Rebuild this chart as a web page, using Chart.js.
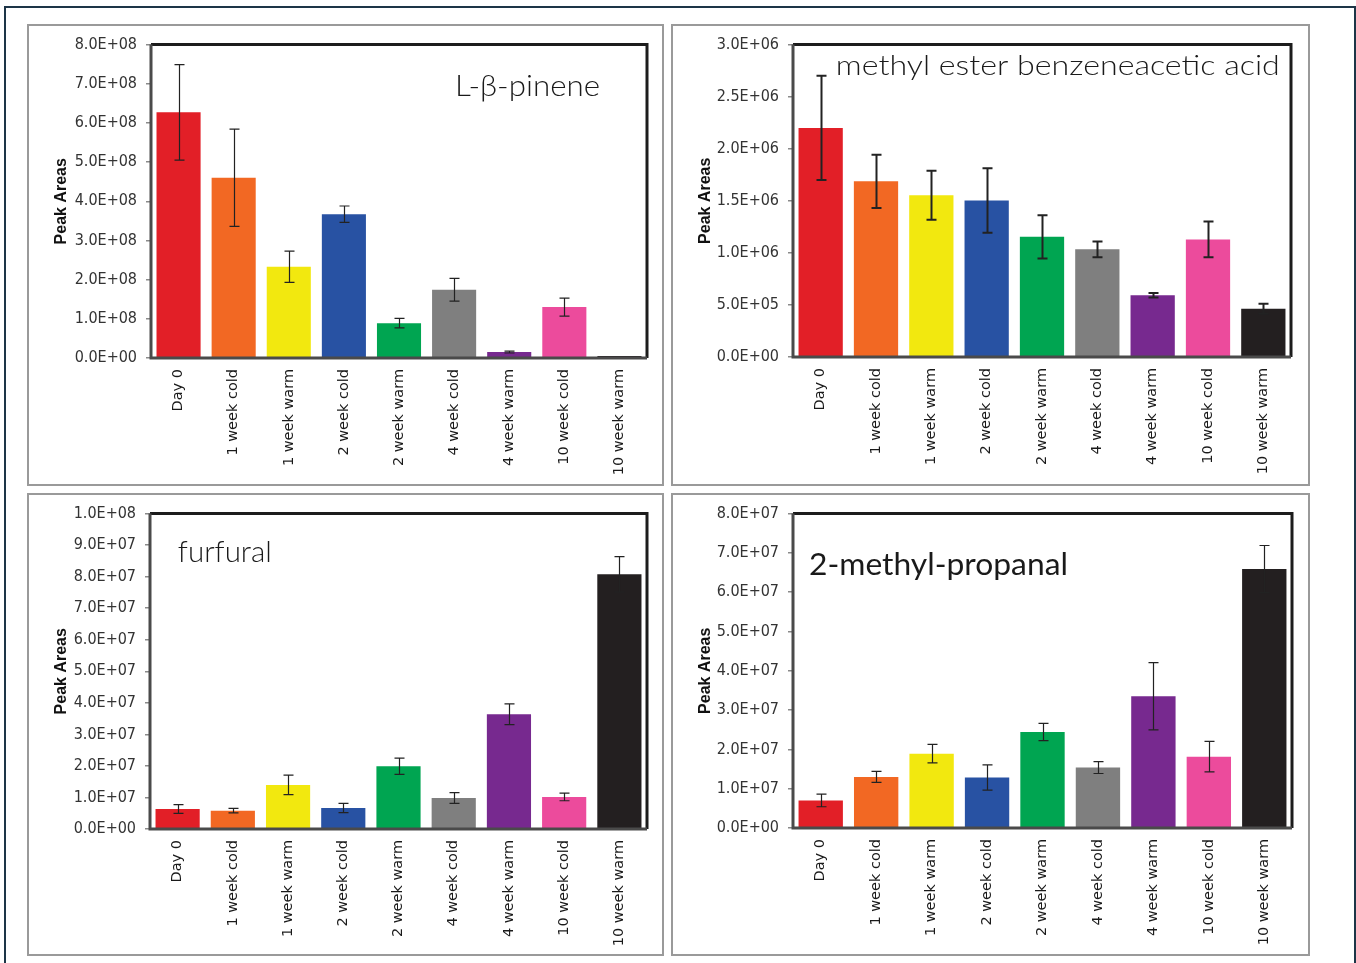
<!DOCTYPE html>
<html>
<head>
<meta charset="utf-8">
<script src="https://cdn.jsdelivr.net/npm/chart.js@4.4.1/dist/chart.umd.min.js"></script>
<style>
  html, body { margin: 0; padding: 0; background: #ffffff; }
  body { width: 1356px; height: 963px; position: relative; overflow: hidden; }
  #frame { position: absolute; left: 4px; top: 6px; width: 1352px; height: 980px; box-sizing: border-box;
           border-left: 2.5px solid #1d3547; border-top: 2px solid #1d3547; border-right: 2px solid #1d3547; }
  .panel { position: absolute; box-sizing: border-box; border: 2px solid #9a9a9a; background: #fff; }
  .panel canvas { position: absolute; left: 0; top: 0; }
</style>
</head>
<body>
<div id="frame"></div>
<script>
// ---------- DATA ----------
const categories = ['Day 0', '1 week cold', '1 week warm', '2 week cold', '2 week warm',
                    '4 week cold', '4 week warm', '10 week cold', '10 week warm'];
const barColors = ['#e21f27', '#f26823', '#f2e80f', '#2852a3', '#00a551',
                   '#7f7f7f', '#77298f', '#ec4b9c', '#231f20'];

const pineneValues = [6.27e8, 4.60e8, 2.33e8, 3.67e8, 0.89e8, 1.74e8, 0.152e8, 1.30e8, 0.05e8];
const pineneErrors = [1.22e8, 1.24e8, 0.40e8, 0.21e8, 0.12e8, 0.29e8, 0.025e8, 0.23e8, 0];
const pineneTicks = ['0.0E+00', '1.0E+08', '2.0E+08', '3.0E+08', '4.0E+08', '5.0E+08', '6.0E+08', '7.0E+08', '8.0E+08'];

const esterValues = [2.20e6, 1.687e6, 1.554e6, 1.503e6, 1.154e6, 1.034e6, 0.593e6, 1.129e6, 0.463e6];
const esterErrors = [0.50e6, 0.255e6, 0.235e6, 0.31e6, 0.208e6, 0.075e6, 0.022e6, 0.172e6, 0.048e6];
const esterTicks = ['0.0E+00', '5.0E+05', '1.0E+06', '1.5E+06', '2.0E+06', '2.5E+06', '3.0E+06'];

const furfuralValues = [0.635e7, 0.582e7, 1.397e7, 0.667e7, 1.989e7, 0.984e7, 3.64e7, 1.016e7, 8.074e7];
const furfuralErrors = [0.14e7, 0.07e7, 0.31e7, 0.148e7, 0.26e7, 0.17e7, 0.33e7, 0.12e7, 0.56e7];
const furfuralTicks = ['0.0E+00', '1.0E+07', '2.0E+07', '3.0E+07', '4.0E+07', '5.0E+07', '6.0E+07', '7.0E+07', '8.0E+07', '9.0E+07', '1.0E+08'];

const propanalValues = [0.701e7, 1.30e7, 1.892e7, 1.284e7, 2.441e7, 1.537e7, 3.353e7, 1.816e7, 6.588e7];
const propanalErrors = [0.16e7, 0.14e7, 0.235e7, 0.32e7, 0.22e7, 0.15e7, 0.855e7, 0.39e7, 0.60e7];
const propanalTicks = ['0.0E+00', '1.0E+07', '2.0E+07', '3.0E+07', '4.0E+07', '5.0E+07', '6.0E+07', '7.0E+07', '8.0E+07'];

const yTitle = 'Peak Areas';

// ---------- LAYOUT ----------
const panels = [
  { box: [27, 24, 637, 462], area: [151, 43, 647, 358], values: pineneValues, errors: pineneErrors,
    ticks: pineneTicks, max: 8e8, step: 1e8, errWidth: 1.2,
    title: 'L-β-pinene', tSpec: { fx: 0.613, fy: 0.165, size: 29, width: 145, weight: 300 } },
  { box: [671, 24, 639, 462], area: [793, 42, 1291, 357], values: esterValues, errors: esterErrors,
    ticks: esterTicks, max: 3e6, step: 5e5, errWidth: 2,
    title: 'methyl ester benzeneacetic acid', tSpec: { fx: 0.086, fy: 0.097, size: 27, width: 444, weight: 300 } },
  { box: [27, 493, 637, 463], area: [150, 513, 647, 829], values: furfuralValues, errors: furfuralErrors,
    ticks: furfuralTicks, max: 1e8, step: 1e7, errWidth: 1.2,
    title: 'furfural', tSpec: { fx: 0.056, fy: 0.152, size: 29, width: 94, weight: 300 } },
  { box: [671, 493, 639, 463], area: [793, 512, 1292, 828], values: propanalValues, errors: propanalErrors,
    ticks: propanalTicks, max: 8e7, step: 1e7, errWidth: 1.2,
    title: '2-methyl-propanal', tSpec: { fx: 0.032, fy: 0.194, size: 31, width: 259, weight: 400 } }
];

const tickFont = { family: "'Liberation Sans Narrow', 'DejaVu Sans Condensed', 'Liberation Sans', sans-serif", size: 16 };

const plotFramePlugin = {
  id: 'plotFrame',
  afterDatasetsDraw(chart) {
    const { ctx, chartArea: a } = chart;
    const p = chart.options.plugins.plotFrame;
    const meta = chart.getDatasetMeta(0);
    const ys = chart.scales.y;
    // error bars
    ctx.save();
    ctx.strokeStyle = '#222';
    ctx.lineWidth = p.errWidth;
    meta.data.forEach((bar, i) => {
      const v = p.values[i], e = p.errors[i];
      if (!e) return;
      const x = Math.round(bar.x) + 0.5;
      const yh = ys.getPixelForValue(v + e), yl = ys.getPixelForValue(v - e);
      const cap = 5;
      ctx.beginPath();
      ctx.moveTo(x, yh); ctx.lineTo(x, yl);
      ctx.moveTo(x - cap, yh); ctx.lineTo(x + cap, yh);
      ctx.moveTo(x - cap, yl); ctx.lineTo(x + cap, yl);
      ctx.stroke();
    });
    ctx.restore();
    // plot frame
    ctx.save();
    ctx.lineWidth = 3;
    ctx.strokeStyle = '#1c1c1c';
    ctx.beginPath();
    ctx.moveTo(a.left, a.top); ctx.lineTo(a.right, a.top); ctx.lineTo(a.right, a.bottom);
    ctx.stroke();
    ctx.strokeStyle = '#4a4a4a';
    ctx.beginPath();
    ctx.moveTo(a.left, a.top); ctx.lineTo(a.left, a.bottom); ctx.lineTo(a.right, a.bottom);
    ctx.stroke();
    ctx.restore();
    // in-plot compound name
    const t = p.tSpec;
    ctx.save();
    ctx.font = `${t.weight} ${t.size}px Lato, 'Open Sans', sans-serif`;
    const w = ctx.measureText(p.title).width;
    const sx = t.width / w;
    ctx.translate(a.left + t.fx * (a.right - a.left), a.top + t.fy * (a.bottom - a.top));
    ctx.scale(sx, 1);
    ctx.fillStyle = '#1a1a1a';
    ctx.textAlign = 'left';
    ctx.textBaseline = 'alphabetic';
    ctx.fillText(p.title, 0, 0);
    ctx.restore();
  }
};

panels.forEach((p) => {
  const [bx, by, bw, bh] = p.box;
  const div = document.createElement('div');
  div.className = 'panel';
  div.style.left = bx + 'px'; div.style.top = by + 'px';
  div.style.width = bw + 'px'; div.style.height = bh + 'px';
  document.body.appendChild(div);
  const cx = bx + 2, cy = by + 2, cw = bw - 4, ch = bh - 4;
  const canvas = document.createElement('canvas');
  canvas.width = cw; canvas.height = ch;
  canvas.style.width = cw + 'px'; canvas.style.height = ch + 'px';
  div.appendChild(canvas);
  const [al, at, ar, ab] = p.area;
  const yW = al - cx, xH = cy + ch - ab;

  new Chart(canvas, {
    type: 'bar',
    data: {
      labels: categories,
      datasets: [{
        data: p.values,
        backgroundColor: barColors,
        borderWidth: 0,
        categoryPercentage: 1,
        barPercentage: 0.8
      }]
    },
    options: {
      responsive: false,
      animation: false,
      devicePixelRatio: 1,
      layout: { padding: { left: 0, top: at - cy, right: cw - (ar - cx), bottom: 0 } },
      plugins: {
        legend: { display: false },
        tooltip: { enabled: false },
        plotFrame: { values: p.values, errors: p.errors, errWidth: p.errWidth, title: p.title, tSpec: p.tSpec }
      },
      scales: {
        x: {
          grid: { display: false, drawTicks: false },
          border: { display: false },
          ticks: {
            minRotation: 90, maxRotation: 90, autoSkip: false, padding: 11,
            color: '#1a1a1a', font: { family: "'DejaVu Sans', Verdana, sans-serif", size: 14.5 }
          },
          afterFit(s) { s.height = xH; }
        },
        y: {
          min: 0, max: p.max,
          grid: { drawOnChartArea: false, drawTicks: true, tickLength: 5, color: '#8a8a8a', lineWidth: 1.5 },
          border: { display: false },
          ticks: {
            stepSize: p.step, padding: 9, color: '#333', font: tickFont,
            callback: (v, i) => p.ticks[i]
          },
          title: {
            display: true, text: yTitle, color: '#111',
            font: { family: "'Liberation Sans', Arial, sans-serif", size: 16, weight: 'bold' },
            padding: { top: 23, bottom: 0 }
          },
          afterFit(s) { s.width = yW; }
        }
      }
    },
    plugins: [plotFramePlugin]
  });
});
</script>
</body>
</html>
